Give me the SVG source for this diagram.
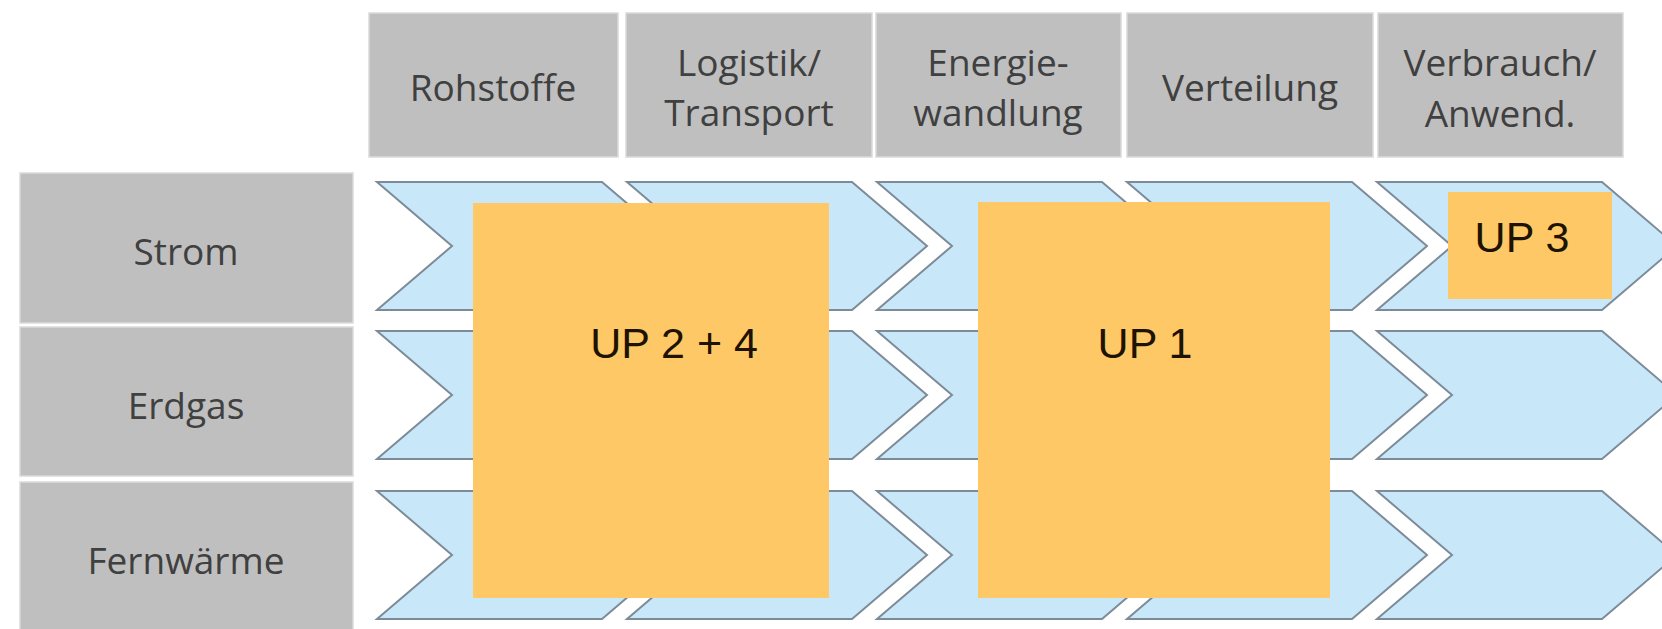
<svg xmlns="http://www.w3.org/2000/svg" xmlns:xlink="http://www.w3.org/1999/xlink" width="1662" height="629" viewBox="0 0 1662 629">
<style>
.hdr{fill:#bfbfbf;stroke:#dadada;stroke-width:1.5}
.gt{font-family:"Open Sans","Noto Sans",sans-serif;font-size:37px;fill:#404040;text-anchor:middle}
.chev{fill:#c8e8f9;stroke:#7d8b98;stroke-width:2;stroke-linejoin:miter}
.up{fill:#fdc865}
.ut{font-family:"Liberation Sans",Arial,sans-serif;font-size:43px;fill:#1e1200;text-anchor:middle}
</style>
<defs>
<path id="chv" class="chev" d="M0,0 H225 L300,64 L225,128 H0 L75,64 Z"/>
</defs>
<rect width="1662" height="629" fill="#ffffff"/>

<g id="col-rohstoffe"><rect class="hdr" x="369" y="13" width="249" height="144"/><text class="gt" x="493" y="101">Rohstoffe</text></g>
<g id="col-logistik"><rect class="hdr" x="626" y="13" width="246" height="144"/><text class="gt" x="749" y="76">Logistik/</text><text class="gt" x="749" y="126">Transport</text></g>
<g id="col-energie"><rect class="hdr" x="876" y="13" width="245" height="144"/><text class="gt" x="998" y="76">Energie-</text><text class="gt" x="998" y="126">wandlung</text></g>
<g id="col-verteilung"><rect class="hdr" x="1127" y="13" width="246" height="144"/><text class="gt" x="1250" y="101">Verteilung</text></g>
<g id="col-verbrauch"><rect class="hdr" x="1378" y="13" width="245" height="144"/><text class="gt" x="1500" y="76">Verbrauch/</text><text class="gt" x="1500" y="127">Anwend.</text></g>

<g id="row-strom"><rect class="hdr" x="20" y="173" width="333" height="150"/><text class="gt" x="186" y="265">Strom</text></g>
<g id="row-erdgas"><rect class="hdr" x="20" y="327" width="333" height="149"/><text class="gt" x="186" y="419">Erdgas</text></g>
<g id="row-fernwaerme"><rect class="hdr" x="20" y="482" width="333" height="152"/><text class="gt" x="186" y="574">Fernwärme</text></g>

<g id="chevrons">
<use xlink:href="#chv" x="377" y="182"/><use xlink:href="#chv" x="627" y="182"/><use xlink:href="#chv" x="877" y="182"/><use xlink:href="#chv" x="1127" y="182"/><use xlink:href="#chv" x="1377" y="182"/>
<use xlink:href="#chv" x="377" y="331"/><use xlink:href="#chv" x="627" y="331"/><use xlink:href="#chv" x="877" y="331"/><use xlink:href="#chv" x="1127" y="331"/><use xlink:href="#chv" x="1377" y="331"/>
<use xlink:href="#chv" x="377" y="491"/><use xlink:href="#chv" x="627" y="491"/><use xlink:href="#chv" x="877" y="491"/><use xlink:href="#chv" x="1127" y="491"/><use xlink:href="#chv" x="1377" y="491"/>
</g>

<g id="up24"><rect class="up" x="473" y="203" width="356" height="395"/><text class="ut" x="674" y="358">UP 2 + 4</text></g>
<g id="up1"><rect class="up" x="978" y="202" width="352" height="396"/><text class="ut" x="1145" y="358">UP 1</text></g>
<g id="up3"><rect class="up" x="1448" y="192" width="164" height="107"/><text class="ut" x="1522" y="252">UP 3</text></g>

<g id="connectors"/>
</svg>
